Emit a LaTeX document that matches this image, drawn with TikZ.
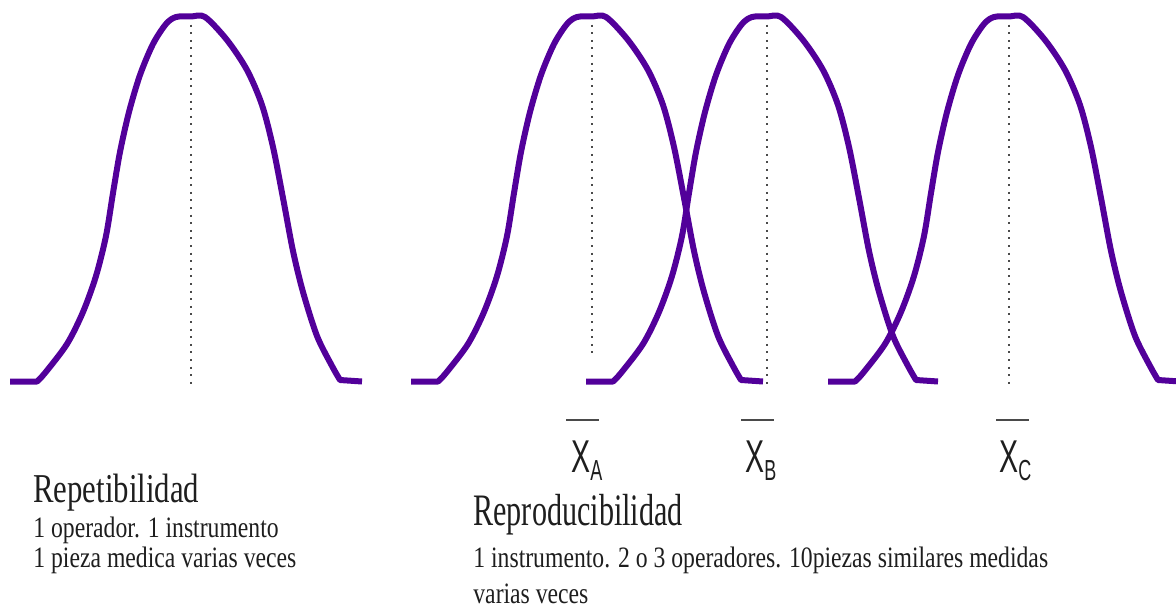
\documentclass[tikz,border=0pt]{standalone}
\usepackage{fontspec}
\newfontfamily\repfont[FakeStretch=0.75]{Liberation Serif}
\newfontfamily\reprofont[FakeStretch=0.67]{Liberation Serif}
\newfontfamily\notefont[FakeStretch=0.8]{Liberation Serif}
\newfontfamily\meanfont[FakeStretch=0.62]{Liberation Sans}
\definecolor{BellPurple}{HTML}{52009A}
\definecolor{MeanGrey}{HTML}{4A4A4A}
\definecolor{TextInk}{HTML}{1E1E1E}

\tikzset{
  bell/.style={BellPurple,line width=3pt,line join=round},
  meanline/.style={MeanGrey,line width=1pt,dash pattern=on 1pt off 2.8pt},
  barline/.style={MeanGrey,line width=1pt},
  headtext/.style={anchor=base west,inner sep=0pt,TextInk},
  notetext/.style={anchor=base west,inner sep=0pt,TextInk,font=\notefont\fontsize{14.8}{17}\selectfont},
  meantext/.style={anchor=base west,inner sep=0pt,TextInk,font=\meanfont\fontsize{23}{26}\selectfont},
}

\begin{document}
\begin{tikzpicture}[x=0.5pt,y=-0.5pt]
  \useasboundingbox (0,0) rectangle (1176,610);
  % dotted centre lines
  \draw[meanline] (191,17) -- (191,388);
  \draw[meanline] (592,17) -- (592,357);
  \draw[meanline] (767,17) -- (767,388);
  \draw[meanline] (1009,17) -- (1009,388);
  % the four bells, same shape shifted
  \foreach \cx in {191,592,767,1009} {
    \begin{scope}[shift={(\cx,0)}]
      \draw[bell] (-181,381.5) -- plot[smooth] coordinates {(-154,381.5) (-146,373) (-124,344) (-108,312) (-95,276)
        (-85,236) (-78,193) (-71,152) (-62,112) (-51,75) (-38,44) (-25,24) (-15,17) (0,16.5) (14,17)
        (36,40) (56,70) (71,105) (82,147) (92,198) (102,251) (112,292) (126,336) (141,366) (149,380)} -- (171,381.5);
    \end{scope}
  }
  % mean labels
  \foreach \x/\bx/\lab in {571/566/A,745/741/B,999/996/C} {
    \draw[barline] (\bx,420) -- ++(33,0);
    \node[meantext] (mean\lab) at (\x,472) {X\raisebox{-4pt}{\fontsize{14.5}{16}\selectfont\lab}};
  }
  % texts
  \node[headtext,font=\repfont\fontsize{20.5}{24}\selectfont] (rep) at (33,502) {Repetibilidad};
  \node[notetext] (rep1) at (33,537) {1 operador. 1 instrumento};
  \node[notetext] (rep2) at (33,567) {1 pieza medica varias veces};
  \node[headtext,font=\reprofont\fontsize{22.5}{26}\selectfont] (repro) at (473,525) {Reproducibilidad};
  \node[notetext] (repro1) at (473,567) {1 instrumento. 2 o 3 operadores. 10piezas similares medidas};
  \node[notetext] (repro2) at (473,603) {varias veces};
\end{tikzpicture}
\end{document}
